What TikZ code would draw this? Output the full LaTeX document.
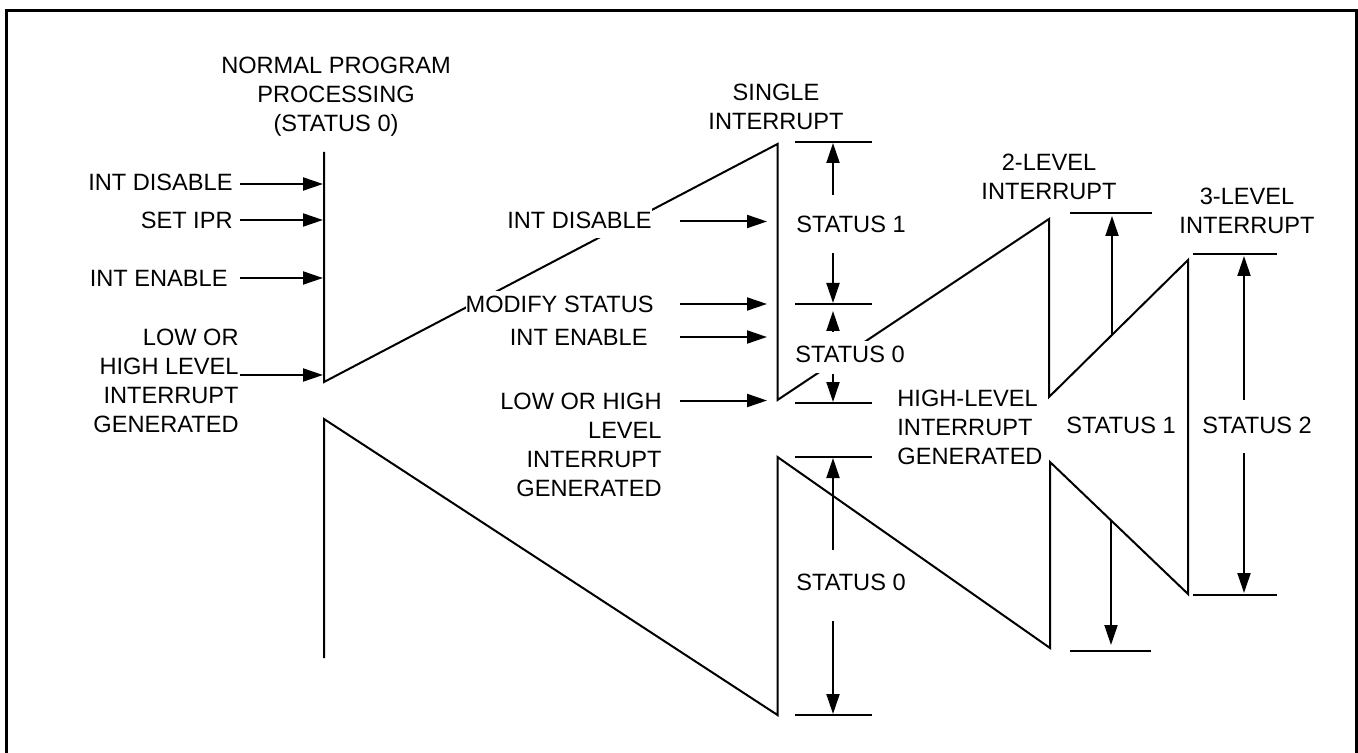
\documentclass[tikz,border=0pt]{standalone}
\usepackage{fontspec}
\setmainfont{Liberation Sans}
\usetikzlibrary{arrows.meta}
\begin{document}
\begin{tikzpicture}[x=0.5pt,y=-0.5pt,
  lbl/.style={font=\fontsize{11.8pt}{14.5pt}\selectfont, inner sep=0pt},
  mask/.style={lbl, fill=white, inner ysep=2.5pt, text depth=2.5pt},
  ln/.style={line width=1pt},
  arr/.style={ln, -{Triangle[length=10pt,width=6.5pt]}},
  frameline/.style={line width=1.4pt}]
\useasboundingbox (0,0) rectangle (1358,753);
\draw[frameline] (6.2,753) -- (6.2,10.5) -- (1356.6,10.5) -- (1356.6,753);

% timeline vertices
\coordinate (p1) at (324,658);
\coordinate (p2) at (324,419);
\coordinate (p3) at (777.5,715);
\coordinate (p4) at (777.5,457);
\coordinate (p5) at (1050,648);
\coordinate (p6) at (1050,462);
\coordinate (p7) at (1188,594);
\coordinate (p8) at (1188,260);
\coordinate (p9) at (1049,397);
\coordinate (p10) at (1049,219);
\coordinate (p11) at (777.5,400);
\coordinate (p12) at (777.5,144);
\coordinate (p13) at (324,382);
\coordinate (p14) at (324,152);
\draw[ln] (p1) -- (p2) -- (p3) -- (p4) -- (p5) -- (p6) -- (p7) -- (p8)
  -- (p9) -- (p10) -- (p11) -- (p12) -- (p13) -- (p14);

% titles
\node[lbl, align=center, anchor=north] (tNormal) at (336,56.5) {NORMAL PROGRAM\\PROCESSING\\(STATUS 0)};
\node[lbl, align=center, anchor=north] (tSingle) at (776,83.5) {SINGLE\\INTERRUPT};
\node[lbl, align=center, anchor=north] (tTwo) at (1049,153.5) {2-LEVEL\\INTERRUPT};
\node[lbl, align=center, anchor=north] (tThree) at (1247,187.5) {3-LEVEL\\INTERRUPT};

% left labels and arrows
\node[lbl, anchor=base east] (lDis) at (233,190.5) {INT DISABLE};
\node[lbl, anchor=base east] (lIpr) at (233,228.5) {SET IPR};
\node[lbl, anchor=base east] (lEn) at (228,286.5) {INT ENABLE};
\node[lbl, align=right, anchor=north east] (lInt) at (239,328.5) {LOW OR\\HIGH LEVEL\\INTERRUPT\\GENERATED};
\coordinate (la1) at (240,184); \coordinate (lb1) at (323,184);
\coordinate (la2) at (240,220); \coordinate (lb2) at (323,220);
\coordinate (la3) at (240,278); \coordinate (lb3) at (323,278);
\coordinate (la4) at (240,375); \coordinate (lb4) at (323,375);
\draw[arr] (la1) -- (lb1);
\draw[arr] (la2) -- (lb2);
\draw[arr] (la3) -- (lb3);
\draw[arr] (la4) -- (lb4);

% middle labels and arrows
\node[mask, anchor=base east] (mDis) at (652,228.5) {INT DISABLE};
\node[mask, anchor=base east] (mMod) at (654,312.5) {MODIFY STATUS};
\node[lbl, anchor=base east] (mEn) at (648,345.8) {INT ENABLE};
\node[lbl, align=right, anchor=north east] (mInt) at (662,392.5) {LOW OR HIGH\\LEVEL\\INTERRUPT\\GENERATED};
\coordinate (ma1) at (680,221.5); \coordinate (mb1) at (767,221.5);
\coordinate (ma2) at (680,304); \coordinate (mb2) at (767,304);
\coordinate (ma3) at (680,337); \coordinate (mb3) at (767,337);
\coordinate (ma4) at (680,400.5); \coordinate (mb4) at (767,400.5);
\draw[arr] (ma1) -- (mb1);
\draw[arr] (ma2) -- (mb2);
\draw[arr] (ma3) -- (mb3);
\draw[arr] (ma4) -- (mb4);

% ticks
\draw[ln] (795,142) -- (872,142);
\draw[ln] (795,304) -- (872,304);
\draw[ln] (795,403) -- (872,403);
\draw[ln] (795,457) -- (872,457);
\draw[ln] (795,715) -- (872,715);
\draw[ln] (1070,213) -- (1152,213);
\draw[ln] (1070,651) -- (1151,651);
\draw[ln] (1193,254) -- (1277,254);
\draw[ln] (1193,595) -- (1277,595);

% status labels
\node[lbl, anchor=base west] (s1) at (796,232.8) {STATUS 1};
\node[mask, anchor=base west] (s0a) at (795,362.5) {STATUS 0};
\node[lbl, anchor=base west] (s0b) at (796,590.5) {STATUS 0};
\node[lbl, anchor=base west] (s1b) at (1066,433.5) {STATUS 1};
\node[lbl, anchor=base west] (s2) at (1202,433.5) {STATUS 2};
\node[lbl, align=left, anchor=north west] (hl) at (897,389.5) {HIGH-LEVEL\\INTERRUPT\\GENERATED};

% status arrows
\coordinate (v1a) at (833,195); \coordinate (v1b) at (833,143);
\coordinate (v2a) at (833,253); \coordinate (v2b) at (833,303);
\coordinate (v3a) at (833,332); \coordinate (v3b) at (833,311);
\coordinate (v4a) at (833,374); \coordinate (v4b) at (833,402);
\coordinate (v5a) at (833,550); \coordinate (v5b) at (833,458);
\coordinate (v6a) at (833,621); \coordinate (v6b) at (833,714);
\coordinate (v7a) at (1112,335); \coordinate (v7b) at (1112,216);
\coordinate (v8a) at (1111,520); \coordinate (v8b) at (1111,645);
\coordinate (v9a) at (1244,400); \coordinate (v9b) at (1244,256);
\coordinate (v10a) at (1244,453); \coordinate (v10b) at (1244,593);
\draw[arr] (v1a) -- (v1b);
\draw[arr] (v2a) -- (v2b);
\draw[arr] (v3a) -- (v3b);
\draw[arr] (v4a) -- (v4b);
\draw[arr] (v5a) -- (v5b);
\draw[arr] (v6a) -- (v6b);
\draw[arr] (v7a) -- (v7b);
\draw[arr] (v8a) -- (v8b);
\draw[arr] (v9a) -- (v9b);
\draw[arr] (v10a) -- (v10b);
\end{tikzpicture}
\end{document}
